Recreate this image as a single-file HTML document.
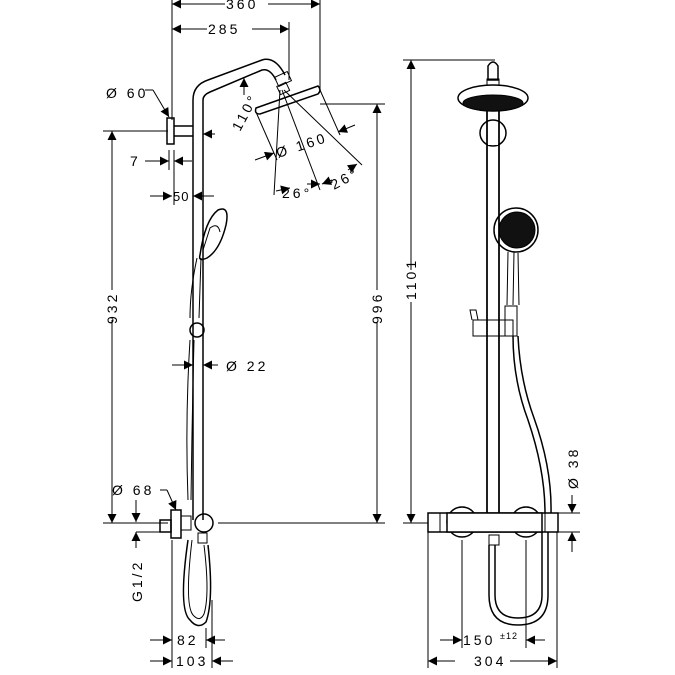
<!DOCTYPE html>
<html><head><style>body{margin:0;background:#fff}svg{display:block}text{font-family:"Liberation Sans",sans-serif;font-size:14px;letter-spacing:3px;fill:#000}</style></head>
<body>
<svg width="675" height="675" viewBox="0 0 675 675" xmlns="http://www.w3.org/2000/svg">
<defs>
<marker id="a" viewBox="0 0 10 10" refX="10" refY="5" markerWidth="11" markerHeight="9" markerUnits="userSpaceOnUse" orient="auto-start-reverse"><path d="M0,0L10,5L0,10z" fill="#000"/></marker>
</defs>
<g stroke="#000" fill="none" stroke-width="1">
<line x1="172" y1="0" x2="172" y2="120"/>
<line x1="289" y1="22" x2="289" y2="80"/>
<line x1="320" y1="0" x2="320" y2="90"/>
<line x1="103" y1="131" x2="168" y2="131"/>
<line x1="320" y1="104" x2="385" y2="104"/>
<line x1="103" y1="523" x2="168" y2="523"/>
<line x1="218" y1="523" x2="385" y2="523"/>
<line x1="172" y1="540" x2="172" y2="668"/>
<line x1="212" y1="600" x2="212" y2="668"/>
<line x1="169" y1="150" x2="169" y2="170"/><line x1="174" y1="150" x2="174" y2="205"/>
<line x1="172" y1="4" x2="225" y2="4" marker-start="url(#a)"/><line x1="268" y1="4" x2="320" y2="4" marker-end="url(#a)"/>
<line x1="172" y1="29" x2="207" y2="29" marker-start="url(#a)"/><line x1="252" y1="29" x2="289" y2="29" marker-end="url(#a)"/>
<line x1="112" y1="131" x2="112" y2="290" marker-start="url(#a)"/><line x1="112" y1="320" x2="112" y2="523" marker-end="url(#a)"/>
<line x1="377" y1="104" x2="377" y2="290" marker-start="url(#a)"/><line x1="377" y1="322" x2="377" y2="523" marker-end="url(#a)"/>
<line x1="145" y1="161" x2="169" y2="161" marker-end="url(#a)"/><line x1="192" y1="161" x2="174" y2="161" marker-end="url(#a)"/>
<line x1="150" y1="196" x2="172" y2="196" marker-end="url(#a)"/><line x1="214" y1="196" x2="193" y2="196" marker-end="url(#a)"/>
<line x1="172" y1="365" x2="193" y2="365" marker-end="url(#a)"/><line x1="218" y1="365" x2="203" y2="365" marker-end="url(#a)"/>
<line x1="215" y1="134" x2="203" y2="134" marker-end="url(#a)"/>
<line x1="145" y1="90" x2="153" y2="90"/><line x1="153" y1="90" x2="169" y2="117" marker-end="url(#a)"/>
<line x1="160" y1="490" x2="167" y2="490"/><line x1="167" y1="490" x2="176" y2="510" marker-end="url(#a)"/>
<line x1="136" y1="500" x2="136" y2="522" marker-end="url(#a)"/><line x1="136" y1="548" x2="136" y2="532" marker-end="url(#a)"/>
<line x1="136" y1="532" x2="168" y2="532"/>
<line x1="150" y1="640" x2="172" y2="640" marker-end="url(#a)"/><line x1="225" y1="640" x2="206" y2="640" marker-end="url(#a)"/>
<line x1="206" y1="628" x2="206" y2="648"/>
<line x1="150" y1="661" x2="172" y2="661" marker-end="url(#a)"/><line x1="233" y1="661" x2="212" y2="661" marker-end="url(#a)"/>
<line x1="280" y1="90" x2="274" y2="195"/>
<line x1="282" y1="90" x2="320" y2="190"/>
<line x1="284" y1="90" x2="362" y2="165"/>
<line x1="256" y1="112" x2="277" y2="160"/>
<line x1="320" y1="90" x2="340" y2="135"/>
<line x1="255" y1="160" x2="274" y2="153" marker-end="url(#a)"/>
<line x1="355" y1="125" x2="338" y2="132" marker-end="url(#a)"/>
<line x1="290" y1="188" x2="276" y2="191" marker-start="url(#a)"/>
<line x1="307" y1="184" x2="320" y2="184" marker-end="url(#a)"/>
<line x1="322" y1="184" x2="332" y2="180" marker-start="url(#a)"/>
<line x1="348" y1="170" x2="357" y2="164" marker-end="url(#a)"/>
<line x1="244" y1="95" x2="244" y2="78" marker-end="url(#a)"/>
<path d="M193,520 V100 Q193,85 208,80 L262,60 Q275,56 285,75" stroke-width="1.5"/>
<path d="M203,520 V100 Q203,95 210,92 L262,70 Q270,68 276,80" stroke-width="1.5"/>
<rect x="276" y="74" width="14" height="10" transform="rotate(-25 283 79)"/>
<rect x="278" y="84" width="10" height="9" transform="rotate(-25 283 88)"/>
<path d="M256,108 L318,86 Q322,90 318,94 L260,114 Q254,114 256,108z" stroke-width="1.5"/>
<rect x="167" y="118" width="7" height="26" stroke-width="1.5"/>
<path d="M174,126 H193 M174,136 H193" stroke-width="1.5"/>
<path d="M200,255 Q205,220 218,210 Q230,205 226,225 Q220,250 207,258 Q198,262 200,255z" stroke-width="1.5"/>
<path d="M203,250 L210,228 Q218,222 220,232" />
<path d="M197,258 Q190,290 190,318 M201,258 Q200,290 199,318"/>
<circle cx="197" cy="330" r="7" stroke-width="1.5"/>
<path d="M190,340 Q185,420 188,500" /><path d="M194,340 Q192,420 191,500"/>
<path d="M188,540 Q178,610 190,620 Q198,630 206,622 Q214,600 208,545" stroke-width="1.5"/>
<path d="M192,540 Q184,608 194,616 Q200,622 204,614 Q210,595 204,545"/>
<rect x="160" y="520" width="11" height="12" stroke-width="1.5"/>
<rect x="171" y="510" width="10" height="28" stroke-width="1.5"/>
<rect x="181" y="516" width="10" height="14"/>
<circle cx="204" cy="523" r="9" stroke-width="1.5"/>
<rect x="198" y="533" width="9" height="10"/>
<line x1="403" y1="60" x2="495" y2="60"/>
<line x1="403" y1="523" x2="428" y2="523"/>
<line x1="411" y1="60" x2="411" y2="270" marker-start="url(#a)"/><line x1="411" y1="302" x2="411" y2="523" marker-end="url(#a)"/>
<line x1="558" y1="513" x2="580" y2="513"/><line x1="558" y1="532" x2="580" y2="532"/>
<line x1="572" y1="495" x2="572" y2="513" marker-end="url(#a)"/><line x1="572" y1="552" x2="572" y2="532" marker-end="url(#a)"/>
<line x1="428" y1="532" x2="428" y2="668"/><line x1="557" y1="532" x2="557" y2="668"/>
<line x1="462" y1="540" x2="462" y2="648"/><line x1="526" y1="540" x2="526" y2="648"/>
<line x1="440" y1="640" x2="462" y2="640" marker-end="url(#a)"/><line x1="545" y1="640" x2="526" y2="640" marker-end="url(#a)"/>
<line x1="455" y1="661" x2="428" y2="661" marker-end="url(#a)"/><line x1="510" y1="661" x2="557" y2="661" marker-end="url(#a)"/>
<circle cx="493" cy="133" r="13" stroke-width="1.5"/>
<path d="M487,513 V110 M499,513 V110" stroke-width="1.5"/>
<rect x="488" y="125" width="10" height="20" fill="#fff" stroke="none"/>
<path d="M487,110 V513 M499,110 V513" stroke-width="1.5"/>
<path d="M488,80 V66 Q493,58 498,66 V80 z" stroke-width="1.5"/>
<rect x="487" y="79" width="12" height="6"/>
<ellipse cx="493" cy="98" rx="35" ry="13" stroke-width="1.5"/>
<ellipse cx="493" cy="103" rx="30" ry="8" fill="#111"/>
<circle cx="516" cy="230" r="22" stroke-width="1.5"/>
<circle cx="517" cy="230" r="18" fill="#111"/>
<path d="M508,252 L507,305 M514,252 L513,305 M518,253 L519,305"/>
<rect x="505" y="306" width="12" height="30"/>
<rect x="473" y="320" width="40" height="16"/>
<path d="M472,320 L470,310 L476,310 L478,320"/>
<path d="M513,336 Q513,380 528,420 Q545,470 545,513" stroke-width="1.5"/>
<path d="M518,336 Q520,380 534,418 Q552,468 551,513" stroke-width="1.5"/>
<path d="M489,545 V595 Q489,625 518,625 Q548,625 548,595 V532" stroke-width="1.5"/>
<path d="M495,545 V595 Q495,618 518,618 Q542,618 542,595 V532" stroke-width="1.5"/>
<rect x="489" y="535" width="10" height="10"/>
<rect x="428" y="513" width="130" height="19" stroke-width="1.5"/>
<circle cx="462" cy="522" r="15" stroke-width="1.5"/>
<circle cx="526" cy="522" r="15" stroke-width="1.5"/>
<rect x="447" y="513" width="95" height="19" fill="#fff" stroke-width="1.5"/>
<line x1="440" y1="513" x2="440" y2="532"/><line x1="545" y1="513" x2="545" y2="532"/>
</g>
<g>
<text x="226" y="9">360</text>
<text x="208" y="34">285</text>
<text x="106" y="98">Ø 60</text>
<text x="130" y="166">7</text>
<text x="173" y="201" style="font-size:13px;letter-spacing:1px">50</text>
<text transform="translate(240,132) rotate(-62)">110°</text>
<text transform="translate(278,158) rotate(-18)">Ø 160</text>
<text x="282" y="198">26°</text>
<text transform="translate(334,190) rotate(-28)">26°</text>
<text x="226" y="371">Ø 22</text>
<text transform="translate(117,324) rotate(-90)">932</text>
<text transform="translate(382,324) rotate(-90)">996</text>
<text x="112" y="495">Ø 68</text>
<text transform="translate(142,602) rotate(-90)">G1/2</text>
<text x="177" y="645">82</text>
<text x="176" y="666">103</text>
<text transform="translate(416,300) rotate(-90)">1101</text>
<text transform="translate(578,489) rotate(-90)">Ø 38</text>
<text x="463" y="645">150</text>
<text x="500" y="639" style="font-size:9px;letter-spacing:1px">±12</text>
<text x="474" y="666">304</text>
</g>
</svg>
</body></html>
